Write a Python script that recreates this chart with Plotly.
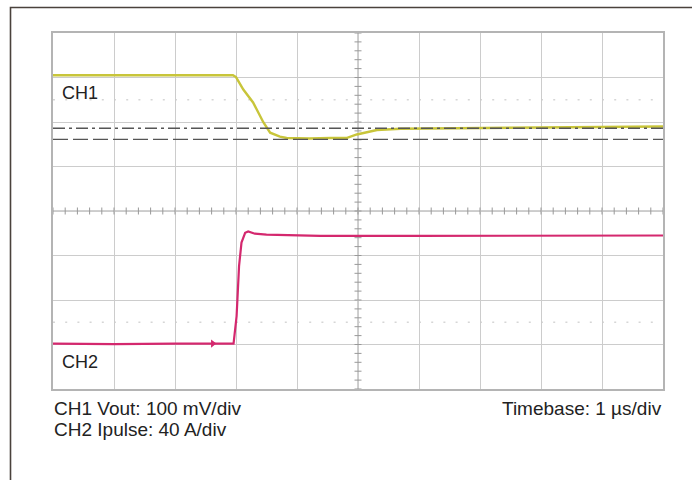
import numpy as np
import plotly.graph_objects as go

# ---- data (time in µs at 1 µs/div; amplitude in screen divisions) ----
ch1_t = [-5.0, -4.0, -3.0, -2.5, -2.05, -2.0, -1.88, -1.72, -1.55, -1.44, -1.28, -1.17,
         -0.8, -0.45, -0.19, -0.02, 0.31, 0.7, 1.5, 2.5, 3.5, 5.0]
ch1_v = [3.05, 3.05, 3.04, 3.05, 3.05, 3.01, 2.73, 2.44, 1.99, 1.76, 1.67, 1.64,
         1.63, 1.64, 1.64, 1.72, 1.82, 1.85, 1.86, 1.87, 1.89, 1.90]

ch2_t = [-5.0, -4.0, -3.0, -2.38, -2.1, -2.04, -1.99, -1.95, -1.91, -1.85, -1.80,
         -1.69, -1.50, -0.62, 1.0, 3.0, 5.0]
ch2_v = [-2.98, -2.99, -2.98, -2.98, -2.99, -2.98, -2.36, -1.24, -0.71, -0.49, -0.46,
         -0.51, -0.53, -0.56, -0.56, -0.56, -0.55]

cursor_dashdot = 1.86
cursor_dash = 1.61
ghost_levels = [2.5, -2.5]
trigger_t = -2.38
trigger_level = -1.24

ch1_label = "CH1"
ch2_label = "CH2"
info_left = ["CH1 Vout: 100 mV/div", "CH2 Ipulse: 40 A/div"]
info_right = "Timebase: 1 µs/div"

CH1_COLOR = "#c8c53a"
CH2_COLOR = "#d4286e"
FONT = "Liberation Sans, Arial, sans-serif"

fig = go.Figure()

# ghost dotted lines
for g in ghost_levels:
    fig.add_shape(type="line", xref="x", yref="y", x0=-5, x1=5, y0=g, y1=g,
                  line=dict(color="#d6d6d6", width=1.5, dash="2px,10.2px"), layer="below")

# center axes
fig.add_shape(type="line", xref="x", yref="y", x0=-5, x1=5, y0=0, y1=0,
              line=dict(color="#a0a0a0", width=1), layer="below")
fig.add_shape(type="line", xref="x", yref="y", x0=0, x1=0, y0=-4, y1=4,
              line=dict(color="#a0a0a0", width=1), layer="below")

tick_x = np.round(np.arange(-5, 5.001, 0.2), 3)
tick_y = np.round(np.arange(-4, 4.001, 0.2), 3)
fig.add_trace(go.Scatter(x=tick_x, y=np.zeros_like(tick_x), mode="markers",
                         marker=dict(symbol="line-ns", size=5, line=dict(width=1, color="#999999")),
                         hoverinfo="skip", showlegend=False))
fig.add_trace(go.Scatter(x=np.zeros_like(tick_y), y=tick_y, mode="markers",
                         marker=dict(symbol="line-ew", size=5, line=dict(width=1, color="#999999")),
                         hoverinfo="skip", showlegend=False))

# cursors
fig.add_shape(type="line", xref="x", yref="y", x0=-5, x1=5, y0=cursor_dashdot, y1=cursor_dashdot,
              line=dict(color="#555555", width=1.3, dash="12px,4px,3px,4px"))
fig.add_shape(type="line", xref="x", yref="y", x0=-5, x1=5, y0=cursor_dash, y1=cursor_dash,
              line=dict(color="#555555", width=1.3, dash="15px,5px"))

# traces
fig.add_trace(go.Scatter(x=ch1_t, y=ch1_v, mode="lines",
                         line=dict(color=CH1_COLOR, width=2.4), showlegend=False))
fig.add_trace(go.Scatter(x=ch2_t, y=ch2_v, mode="lines",
                         line=dict(color=CH2_COLOR, width=2.2), showlegend=False))

# trigger markers
fig.add_trace(go.Scatter(x=[trigger_t], y=[ch2_v[3]], mode="markers",
                         marker=dict(symbol="triangle-right", size=7, color=CH2_COLOR),
                         showlegend=False, cliponaxis=False))
fig.add_trace(go.Scatter(x=[5.08], y=[trigger_level], mode="markers",
                         marker=dict(symbol="triangle-left", size=7, color=CH2_COLOR),
                         showlegend=False, cliponaxis=False))

# channel labels
fig.add_annotation(x=-4.885, y=2.65, xref="x", yref="y", text=ch1_label, showarrow=False,
                   xanchor="left", yanchor="middle", font=dict(family=FONT, size=18, color="#222222"))
fig.add_annotation(x=-4.885, y=-3.39, xref="x", yref="y", text=ch2_label, showarrow=False,
                   xanchor="left", yanchor="middle", font=dict(family=FONT, size=18, color="#222222"))

# info text (paper coords: px -> (px-53)/610, py -> (389-py)/356)
def px2x(px):
    return (px - 53) / 610.0

def py2y(py):
    return (389 - py) / 356.0

fig.add_annotation(x=px2x(52), y=py2y(409), xref="paper", yref="paper", text=info_left[0],
                   showarrow=False, xanchor="left", yanchor="middle",
                   font=dict(family=FONT, size=19, color="#222222"))
fig.add_annotation(x=px2x(52), y=py2y(429), xref="paper", yref="paper", text=info_left[1],
                   showarrow=False, xanchor="left", yanchor="middle",
                   font=dict(family=FONT, size=19, color="#222222"))
fig.add_annotation(x=px2x(664), y=py2y(409), xref="paper", yref="paper", text=info_right,
                   showarrow=False, xanchor="right", yanchor="middle",
                   font=dict(family=FONT, size=19, color="#222222"))

# outer frame (left and top edges only)
fig.add_shape(type="path", xref="paper", yref="paper",
              path=f"M {px2x(10.5)} {py2y(482)} L {px2x(10.5)} {py2y(7.5)} L {px2x(694)} {py2y(7.5)}",
              line=dict(color="#4a423c", width=1.6))

fig.update_xaxes(range=[-5, 5], dtick=1, tick0=-5, showgrid=True, gridcolor="#cccccc", gridwidth=1,
                 zeroline=False, showticklabels=False, ticks="", showline=True, mirror=True,
                 linecolor="#b4b4b4", linewidth=1.5, fixedrange=True)
fig.update_yaxes(range=[-4, 4], dtick=1, tick0=-4, showgrid=True, gridcolor="#cccccc", gridwidth=1,
                 zeroline=False, showticklabels=False, ticks="", showline=True, mirror=True,
                 linecolor="#b4b4b4", linewidth=1.5, fixedrange=True)

fig.update_layout(width=692, height=480, margin=dict(l=53, r=29, t=33, b=91),
                  paper_bgcolor="white", plot_bgcolor="white", showlegend=False)

fig.write_html("out.html", config={"displayModeBar": False})
